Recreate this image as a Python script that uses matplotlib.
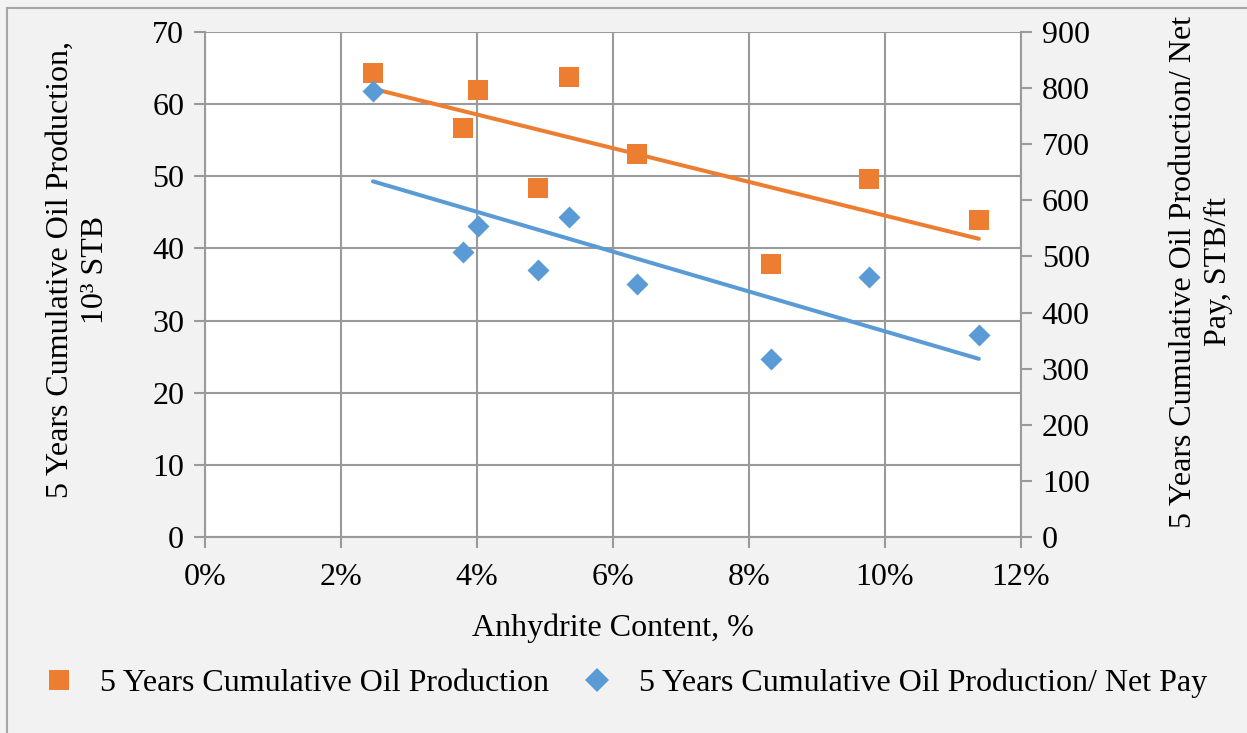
import numpy as np
import matplotlib
matplotlib.use("Agg")
import matplotlib.pyplot as plt
from matplotlib.lines import Line2D
from matplotlib.patches import Rectangle
from matplotlib.ticker import PercentFormatter

plt.rcParams['font.family'] = ['Liberation Serif', 'DejaVu Serif']

# Data
anhydrite_pct = [2.47, 3.79, 4.01, 4.90, 5.35, 6.35, 8.32, 9.76, 11.38]
cum_oil_mstb = [64.3, 56.7, 62.0, 48.4, 63.8, 53.1, 37.8, 49.6, 43.9]
cum_oil_per_netpay = [795, 508, 554, 476, 570, 451, 317, 463, 360]
series_names = ["5 Years Cumulative Oil Production",
                "5 Years Cumulative Oil Production/ Net Pay"]
xticks = [0, 2, 4, 6, 8, 10, 12]
left_ticks = [0, 10, 20, 30, 40, 50, 60, 70]
right_ticks = [0, 100, 200, 300, 400, 500, 600, 700, 800, 900]

ORANGE = '#ED7D31'
BLUE = '#5B9BD5'
GRID = '#9a9a9a'
BG = '#F2F2F2'
FS = 23

W, H = 1247, 733
fig = plt.figure(figsize=(W / 100, H / 100), dpi=100, facecolor=BG)
fig.patches.append(Rectangle((7 / W, -0.1), 1.2, 1 - 8 / H + 0.1, transform=fig.transFigure,
                             fill=False, edgecolor='#a6a6a6', linewidth=1.5))

ax = fig.add_axes([205 / W, 1 - 537 / H, (1021 - 205) / W, (537 - 32) / H])
ax.set_facecolor('white')
ax2 = ax.twinx()

x = np.array(anhydrite_pct)
y1 = np.array(cum_oil_mstb)
y2 = np.array(cum_oil_per_netpay)

ax.scatter(x, y1, marker='s', s=14.8 ** 2, color=ORANGE, zorder=3, linewidths=0)
ax2.scatter(x, y2, marker='D', s=11.2 ** 2, color=BLUE, zorder=3, linewidths=0)

xl = np.array([x.min(), x.max()])
p1 = np.polyfit(x, y1, 1)
p2 = np.polyfit(x, y2, 1)
ax.plot(xl, np.polyval(p1, xl), color=ORANGE, lw=2.9, solid_capstyle='round', zorder=2)
ax2.plot(xl, np.polyval(p2, xl), color=BLUE, lw=2.9, solid_capstyle='round', zorder=2)

ax.set_xlim(0, 12)
ax.set_ylim(0, 70)
ax2.set_ylim(0, 900)
ax.set_xticks(xticks)
ax.xaxis.set_major_formatter(PercentFormatter(decimals=0))
ax.set_yticks(left_ticks)
ax2.set_yticks(right_ticks)

ax.grid(True, color=GRID, linewidth=1.5)
ax.set_axisbelow(True)
for a in (ax, ax2):
    for s in a.spines.values():
        s.set_color(GRID)
        s.set_linewidth(1.5)
    a.spines['top'].set_visible(False)
ax2.spines['left'].set_visible(False)
ax2.spines['bottom'].set_visible(False)
ax.spines['right'].set_visible(False)

ax.tick_params(axis='both', which='both', direction='out', length=8, width=1.5,
               color=GRID, labelsize=FS, pad=7)
ax.tick_params(axis='x', pad=11)
ax2.tick_params(axis='y', direction='out', length=8, width=1.5, color=GRID,
                labelsize=FS, pad=7)

fig.text(78 / W, 1 - 270 / H, "5 Years Cumulative Oil Production,\n10\u00b3 STB",
         rotation=90, ha='center', va='center', fontsize=FS, linespacing=1.3)
fig.text(1201 / W, 1 - 272 / H, "5 Years Cumulative Oil Production/ Net\nPay, STB/ft",
         rotation=90, ha='center', va='center', fontsize=FS, linespacing=1.3)
fig.text(613 / W, 1 - 628 / H, "Anhydrite Content, %", ha='center', va='center', fontsize=FS)

handles = [Line2D([], [], marker='s', color=ORANGE, linestyle='None', markersize=14.8, markeredgewidth=0),
           Line2D([], [], marker='D', color=BLUE, linestyle='None', markersize=12, markeredgewidth=0)]
fig.legend(handles, series_names, loc='center', bbox_to_anchor=(625 / W, 1 - 683 / H),
           ncol=2, frameon=False, fontsize=FS, handlelength=1.0, handletextpad=0.8,
           columnspacing=1.0)

fig.savefig("out.png", dpi=100, facecolor=BG)
